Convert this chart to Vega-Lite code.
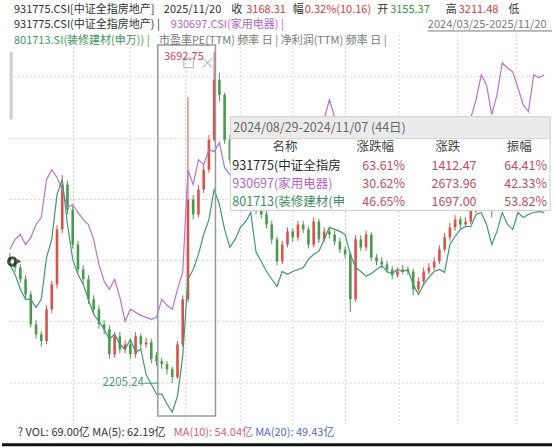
{
"$schema":"https://vega.github.io/schema/vega-lite/v6.json",
"width":554,"height":447,"autosize":{"type":"fit","contains":"padding"},"padding":0,
"background":"#ffffff",
"config":{"view":{"stroke":null},"text":{"font":"Noto Sans CJK SC","fontSize":11,"baseline":"middle","align":"left"}},
"datasets":{
"k":[
{"d":0,"o":2770,"c":2752,"h":2790,"l":2735},{"d":4,"o":2752,"c":2725,"h":2770,"l":2705},{"d":8,"o":2725,"c":2672,"h":2740,"l":2655},{"d":12,"o":2672,"c":2604,"h":2690,"l":2585},{"d":16,"o":2604,"c":2470,"h":2620,"l":2455},{"d":20,"o":2470,"c":2425,"h":2490,"l":2405},{"d":24,"o":2425,"c":2394,"h":2440,"l":2370},{"d":28,"o":2394,"c":2537,"h":2555,"l":2380},{"d":32,"o":2537,"c":2649,"h":2665,"l":2520},{"d":36,"o":2649,"c":2896,"h":2915,"l":2630},{"d":40,"o":2896,"c":3097,"h":3140,"l":2880},{"d":44,"o":3097,"c":2985,"h":3115,"l":2965},{"d":48,"o":2985,"c":2828,"h":3000,"l":2810},{"d":52,"o":2828,"c":2716,"h":2845,"l":2700},{"d":56,"o":2716,"c":2672,"h":2735,"l":2650},{"d":60,"o":2672,"c":2582,"h":2690,"l":2560},{"d":64,"o":2582,"c":2537,"h":2600,"l":2515},{"d":68,"o":2537,"c":2470,"h":2555,"l":2450},{"d":72,"o":2470,"c":2448,"h":2490,"l":2425},{"d":76,"o":2448,"c":2336,"h":2465,"l":2315},{"d":80,"o":2336,"c":2416,"h":2435,"l":2320},{"d":84,"o":2416,"c":2358,"h":2435,"l":2340},{"d":88,"o":2358,"c":2380,"h":2400,"l":2340},{"d":92,"o":2380,"c":2336,"h":2400,"l":2315},{"d":96,"o":2336,"c":2416,"h":2435,"l":2320},{"d":100,"o":2416,"c":2380,"h":2430,"l":2360},{"d":104,"o":2380,"c":2389,"h":2410,"l":2365},{"d":108,"o":2389,"c":2313,"h":2405,"l":2295},{"d":112,"o":2330,"c":2305,"h":2345,"l":2285},{"d":116,"o":2305,"c":2291,"h":2320,"l":2270},{"d":120,"o":2291,"c":2268,"h":2305,"l":2245},{"d":124,"o":2268,"c":2233,"h":2280,"l":2205.24},{"d":128,"o":2233,"c":2380,"h":2395,"l":2225},{"d":132,"o":2380,"c":2582,"h":2600,"l":2370},{"d":136,"o":2582,"c":3030,"h":3491,"l":2570},{"d":140,"o":3030,"c":2963,"h":3050,"l":2940},{"d":144,"o":2963,"c":3075,"h":3095,"l":2950},{"d":148,"o":3075,"c":3164,"h":3185,"l":3060},{"d":152,"o":3164,"c":3299,"h":3320,"l":3150},{"d":156,"o":3299,"c":3568,"h":3692.75,"l":3290},{"d":160,"o":3568,"c":3500,"h":3600,"l":3470},{"d":164,"o":3500,"c":3299,"h":3510,"l":3280},
{"d":168,"o":3299,"c":3209,"h":3320,"l":3190},{"d":172,"o":3209,"c":3120,"h":3230,"l":3100},{"d":176,"o":3120,"c":3075,"h":3140,"l":3055},{"d":180,"o":3075,"c":3097,"h":3115,"l":3060},{"d":184,"o":3097,"c":3030,"h":3110,"l":3010},{"d":188,"o":3030,"c":2985,"h":3045,"l":2965},{"d":192,"o":2985,"c":2963,"h":3000,"l":2945},{"d":196,"o":2963,"c":2918,"h":2980,"l":2900},{"d":200,"o":2918,"c":2851,"h":2935,"l":2830},{"d":204,"o":2851,"c":2752,"h":2865,"l":2735},{"d":208,"o":2752,"c":2828,"h":2845,"l":2740},{"d":212,"o":2828,"c":2887,"h":2905,"l":2815},{"d":216,"o":2887,"c":2860,"h":2900,"l":2840},{"d":220,"o":2860,"c":2918,"h":2935,"l":2845},{"d":224,"o":2918,"c":2896,"h":2935,"l":2880},{"d":228,"o":2896,"c":2828,"h":2910,"l":2810},{"d":232,"o":2828,"c":2931,"h":2950,"l":2815},{"d":236,"o":2931,"c":2851,"h":2945,"l":2835},{"d":240,"o":2851,"c":2887,"h":2905,"l":2840},{"d":244,"o":2887,"c":2873,"h":2900,"l":2855},{"d":248,"o":2873,"c":2842,"h":2890,"l":2825},{"d":252,"o":2842,"c":2806,"h":2860,"l":2790},{"d":256,"o":2806,"c":2784,"h":2820,"l":2765},{"d":260,"o":2784,"c":2582,"h":2795,"l":2524},{"d":264,"o":2582,"c":2851,"h":2870,"l":2570},{"d":268,"o":2851,"c":2815,"h":2870,"l":2800},{"d":272,"o":2815,"c":2873,"h":2890,"l":2800},{"d":276,"o":2873,"c":2770,"h":2885,"l":2755},{"d":280,"o":2770,"c":2752,"h":2785,"l":2735},{"d":284,"o":2752,"c":2739,"h":2770,"l":2720},{"d":288,"o":2739,"c":2716,"h":2755,"l":2700},{"d":292,"o":2716,"c":2690,"h":2730,"l":2672},{"d":296,"o":2690,"c":2707,"h":2725,"l":2680},{"d":300,"o":2707,"c":2716,"h":2735,"l":2695},{"d":304,"o":2716,"c":2707,"h":2730,"l":2690},{"d":308,"o":2707,"c":2627,"h":2720,"l":2600},{"d":312,"o":2627,"c":2663,"h":2680,"l":2615},{"d":316,"o":2663,"c":2707,"h":2725,"l":2650},{"d":320,"o":2707,"c":2725,"h":2745,"l":2695},{"d":324,"o":2725,"c":2752,"h":2770,"l":2712},{"d":328,"o":2752,"c":2806,"h":2825,"l":2740},{"d":332,"o":2806,"c":2860,"h":2880,"l":2795},{"d":336,"o":2860,"c":2905,"h":2925,"l":2845},{"d":340,"o":2905,"c":2940,"h":2960,"l":2890},{"d":344,"o":2940,"c":2918,"h":2955,"l":2900},{"d":348,"o":2918,"c":2931,"h":2950,"l":2905},{"d":352,"o":2931,"c":2985,"h":3005,"l":2920},{"d":356,"o":2985,"c":3008,"h":3025,"l":2970},{"d":360,"o":3008,"c":3030,"h":3050,"l":2995},{"d":364,"o":3030,"c":3039,"h":3060,"l":3015},{"d":368,"o":3039,"c":3008,"h":3050,"l":2950},{"d":372,"o":3008,"c":3030,"h":3048,"l":2995},{"d":376,"o":3030,"c":3052,"h":3070,"l":3015},{"d":380,"o":3052,"c":3039,"h":3065,"l":3020},{"d":384,"o":3039,"c":3052,"h":3070,"l":3025},{"d":388,"o":3052,"c":3030,"h":3065,"l":3012},{"d":392,"o":3030,"c":3043,"h":3060,"l":3018},{"d":396,"o":3043,"c":3075,"h":3090,"l":3030},{"d":400,"o":3075,"c":3100,"h":3120,"l":3060},{"d":404,"o":3100,"c":3130,"h":3150,"l":3085},{"d":408,"o":3155,"c":3168.31,"h":3211.48,"l":3140}
],
"cmp":[
{"d":0,"p":2806,"g":2739},{"d":4,"p":2851,"g":2694},{"d":8,"p":2873,"g":2627},{"d":12,"p":2828,"g":2582},{"d":16,"p":2860,"g":2582},{"d":20,"p":2918,"g":2546},{"d":24,"p":2949,"g":2582},{"d":28,"p":3120,"g":2770},{"d":32,"p":3164,"g":2851},{"d":36,"p":3129,"g":3052},{"d":40,"p":3075,"g":3120},{"d":44,"p":2994,"g":2918},{"d":48,"p":3008,"g":2761},{"d":52,"p":2972,"g":2694},{"d":56,"p":2940,"g":2649},{"d":60,"p":2918,"g":2582},{"d":64,"p":2851,"g":2515},{"d":68,"p":2739,"g":2483},{"d":72,"p":2663,"g":2448},{"d":76,"p":2627,"g":2403},{"d":80,"p":2672,"g":2425},{"d":84,"p":2591,"g":2380},{"d":88,"p":2483,"g":2358},{"d":92,"p":2537,"g":2403},{"d":96,"p":2524,"g":2345},{"d":100,"p":2510,"g":2358},{"d":104,"p":2501,"g":2246},{"d":108,"p":2492,"g":2201},{"d":112,"p":2501,"g":2156},{"d":116,"p":2582,"g":2156},{"d":120,"p":2555,"g":2112},{"d":124,"p":2537,"g":2076},{"d":128,"p":2627,"g":2147},{"d":132,"p":2703,"g":2327},{"d":136,"p":3164,"g":2672},{"d":140,"p":3097,"g":2716},{"d":144,"p":3209,"g":2784},{"d":148,"p":3187,"g":2873},{"d":152,"p":3254,"g":2940},{"d":156,"p":3245,"g":3075},{"d":160,"p":3285,"g":3008},{"d":164,"p":3173,"g":2896},{"d":168,"p":3142,"g":2815},{"d":172,"p":3164,"g":2851},{"d":176,"p":3209,"g":2905},{"d":180,"p":3254,"g":2931},{"d":184,"p":3276,"g":2972},{"d":188,"p":3254,"g":2793},{"d":192,"p":3209,"g":2752},{"d":196,"p":3232,"g":2707},{"d":200,"p":3254,"g":2672},{"d":204,"p":3276,"g":2640},{"d":208,"p":3299,"g":2707},{"d":212,"p":3321,"g":2694},{"d":216,"p":3308,"g":2707},{"d":220,"p":3335,"g":2716},{"d":224,"p":3344,"g":2725},{"d":228,"p":3353,"g":2761},{"d":232,"p":3366,"g":2784},{"d":236,"p":3379,"g":2797},{"d":240,"p":3390,"g":2851},{"d":244,"p":3478,"g":2905},{"d":248,"p":3400,"g":2896},{"d":252,"p":3388,"g":2887},{"d":256,"p":3366,"g":2873},{"d":260,"p":3321,"g":2784},{"d":264,"p":3299,"g":2725},{"d":268,"p":3290,"g":2707},{"d":272,"p":3276,"g":2685},{"d":276,"p":3263,"g":2698},{"d":280,"p":3254,"g":2716},{"d":284,"p":3245,"g":2734},{"d":288,"p":3254,"g":2707},{"d":292,"p":3232,"g":2698},{"d":296,"p":3254,"g":2716},{"d":300,"p":3245,"g":2707},{"d":304,"p":3232,"g":2716},{"d":308,"p":3218,"g":2649},{"d":312,"p":3254,"g":2604},{"d":316,"p":3263,"g":2649},{"d":320,"p":3276,"g":2681},{"d":324,"p":3299,"g":2707},{"d":328,"p":3308,"g":2716},{"d":332,"p":3321,"g":2703},{"d":336,"p":3335,"g":2828},{"d":340,"p":3344,"g":2864},{"d":344,"p":3353,"g":2896},{"d":348,"p":3366,"g":2909},{"d":352,"p":3397,"g":2909},{"d":356,"p":3478,"g":2963},{"d":360,"p":3590,"g":2972},{"d":364,"p":3545,"g":2918},{"d":368,"p":3411,"g":2828},{"d":372,"p":3500,"g":2887},{"d":376,"p":3644,"g":2972},{"d":380,"p":3621,"g":2918},{"d":384,"p":3603,"g":2896},{"d":388,"p":3532,"g":2972},{"d":392,"p":3456,"g":2949},{"d":396,"p":3424,"g":2963},{"d":400,"p":3590,"g":2972},{"d":404,"p":3577,"g":2976},{"d":408,"p":3590,"g":2972}
]
},
"layer":[
{"data":{"values":[{"v":3581},{"v":3303},{"v":3030},{"v":2757},{"v":2483},{"v":2206}]},
 "mark":{"type":"rule","color":"#d6d6d6","strokeDash":[2,2],"strokeWidth":1},
 "encoding":{"x":{"datum":0,"type":"quantitative","scale":{"domain":[-6,414],"nice":false,"zero":false},"axis":null},"x2":{"datum":409.5},
  "y":{"field":"v","type":"quantitative","scale":{"domain":[1923.4,3926],"nice":false,"zero":false},"axis":null}}},
{"data":{"values":[{"d":48.6},{"d":91.8},{"d":134.3},{"d":176},{"d":216.1},{"d":256.3},{"d":297.3},{"d":342},{"d":386.7}]},
 "mark":{"type":"rule","color":"#d6d6d6","strokeDash":[2,2],"strokeWidth":1},
 "encoding":{"x":{"field":"d","type":"quantitative","scale":{"domain":[-6,414],"nice":false,"zero":false},"axis":null},
  "y":{"datum":3769,"type":"quantitative","scale":{"domain":[1923.4,3926],"nice":false,"zero":false},"axis":null},"y2":{"datum":2022}}},
{"data":{"values":[{}]},"mark":{"type":"rule","color":"#d0d0d0","strokeWidth":3},
 "encoding":{"x":{"datum":1,"type":"quantitative","scale":{"domain":[-6,414],"nice":false,"zero":false},"axis":null},
  "y":{"datum":3693,"type":"quantitative","scale":{"domain":[1923.4,3926],"nice":false,"zero":false},"axis":null},"y2":{"datum":3390}}},
{"data":{"name":"k"},"mark":{"type":"rule","strokeWidth":1},
 "encoding":{"x":{"field":"d","type":"quantitative","scale":{"domain":[-6,414],"nice":false,"zero":false},"axis":null},
  "y":{"field":"l","type":"quantitative","scale":{"domain":[1923.4,3926],"nice":false,"zero":false},"axis":null},"y2":{"field":"h"},
  "color":{"condition":{"test":"datum.c >= datum.o","value":"#d8524a"},"value":"#4a9a4e"}}},
{"data":{"name":"k"},"mark":{"type":"rule","strokeWidth":2.6},
 "encoding":{"x":{"field":"d","type":"quantitative","scale":{"domain":[-6,414],"nice":false,"zero":false},"axis":null},
  "y":{"field":"o","type":"quantitative","scale":{"domain":[1923.4,3926],"nice":false,"zero":false},"axis":null},"y2":{"field":"c"},
  "color":{"condition":{"test":"datum.c >= datum.o","value":"#d8524a"},"value":"#4a9a4e"}}},
{"data":{"name":"cmp"},"mark":{"type":"line","color":"#b873cf","strokeWidth":1.2},
 "encoding":{"x":{"field":"d","type":"quantitative","scale":{"domain":[-6,414],"nice":false,"zero":false},"axis":null},
  "y":{"field":"p","type":"quantitative","scale":{"domain":[1923.4,3926],"nice":false,"zero":false},"axis":null}}},
{"data":{"name":"cmp"},"mark":{"type":"line","color":"#3f9a72","strokeWidth":1.2},
 "encoding":{"x":{"field":"d","type":"quantitative","scale":{"domain":[-6,414],"nice":false,"zero":false},"axis":null},
  "y":{"field":"g","type":"quantitative","scale":{"domain":[1923.4,3926],"nice":false,"zero":false},"axis":null}}},
{"data":{"values":[{}]},"mark":{"type":"rect","fill":"#ffffff","fillOpacity":0,"stroke":"#9a9a9a","strokeWidth":1.5},
 "encoding":{"x":{"datum":113,"type":"quantitative","scale":{"domain":[-6,414],"nice":false,"zero":false},"axis":null},"x2":{"datum":157},
  "y":{"datum":2058,"type":"quantitative","scale":{"domain":[1923.4,3926],"nice":false,"zero":false},"axis":null},"y2":{"datum":3724}}},
{"data":{"values":[{"d":136.5,"v":3644}]},"mark":{"type":"point","shape":"square","size":90,"filled":false,"color":"#a8a8a8","strokeWidth":1.2},
 "encoding":{"x":{"field":"d","type":"quantitative","scale":{"domain":[-6,414],"nice":false,"zero":false},"axis":null},
  "y":{"field":"v","type":"quantitative","scale":{"domain":[1923.4,3926],"nice":false,"zero":false},"axis":null}}},
{"data":{"values":[{"d":150.9,"v":3644}]},"mark":{"type":"point","shape":"M-1,-1L1,1M1,-1L-1,1","size":80,"filled":false,"color":"#a8a8a8","strokeWidth":1.2},
 "encoding":{"x":{"field":"d","type":"quantitative","scale":{"domain":[-6,414],"nice":false,"zero":false},"axis":null},
  "y":{"field":"v","type":"quantitative","scale":{"domain":[1923.4,3926],"nice":false,"zero":false},"axis":null}}},
{"data":{"values":[{}]},"mark":{"type":"rule","color":"#4a9a7a","strokeWidth":1},
 "encoding":{"x":{"datum":102.6,"type":"quantitative","scale":{"domain":[-6,414],"nice":false,"zero":false},"axis":null},"x2":{"datum":113},
  "y":{"datum":2205.24,"type":"quantitative","scale":{"domain":[1923.4,3926],"nice":false,"zero":false},"axis":null}}},
{"data":{"values":[{"d":102.4,"v":2205.24,"t":"2205.24"}]},"mark":{"type":"text","align":"right","color":"#4a9a7a","fontSize":11.5},
 "encoding":{"x":{"field":"d","type":"quantitative","scale":{"domain":[-6,414],"nice":false,"zero":false},"axis":null},
  "y":{"field":"v","type":"quantitative","scale":{"domain":[1923.4,3926],"nice":false,"zero":false},"axis":null},"text":{"field":"t"}}},
{"data":{"values":[{"d":148,"v":3668,"t":"3692.75"}]},"mark":{"type":"text","align":"right","color":"#d04a5a","fontSize":11},
 "encoding":{"x":{"field":"d","type":"quantitative","scale":{"domain":[-6,414],"nice":false,"zero":false},"axis":null},
  "y":{"field":"v","type":"quantitative","scale":{"domain":[1923.4,3926],"nice":false,"zero":false},"axis":null},"text":{"field":"t"}}},
{"data":{"values":[{"d":1.8,"v":2752}]},"mark":{"type":"point","shape":"circle","size":55,"filled":false,"color":"#111111","strokeWidth":3},
 "encoding":{"x":{"field":"d","type":"quantitative","scale":{"domain":[-6,414],"nice":false,"zero":false},"axis":null},
  "y":{"field":"v","type":"quantitative","scale":{"domain":[1923.4,3926],"nice":false,"zero":false},"axis":null}}},
{"data":{"values":[{"d":7.2,"v":2752}]},"mark":{"type":"point","shape":"triangle-right","size":22,"filled":true,"color":"#111111"},
 "encoding":{"x":{"field":"d","type":"quantitative","scale":{"domain":[-6,414],"nice":false,"zero":false},"axis":null},
  "y":{"field":"v","type":"quantitative","scale":{"domain":[1923.4,3926],"nice":false,"zero":false},"axis":null}}},
{"data":{"values":[{}]},"mark":{"type":"rect","fill":"#ffffff","stroke":"#cfcfcf","strokeWidth":1},
 "encoding":{"x":{"datum":168.4,"type":"quantitative","scale":{"domain":[-6,414],"nice":false,"zero":false},"axis":null},"x2":{"datum":412.5},
  "y":{"datum":2980.7,"type":"quantitative","scale":{"domain":[1923.4,3926],"nice":false,"zero":false},"axis":null},"y2":{"datum":3401.8}}},
{"data":{"values":[{}]},"mark":{"type":"rect","fill":"#ebebeb","stroke":"#d4d4d4","strokeWidth":1},
 "encoding":{"x":{"datum":168.4,"type":"quantitative","scale":{"domain":[-6,414],"nice":false,"zero":false},"axis":null},"x2":{"datum":412.5},
  "y":{"datum":3303.3,"type":"quantitative","scale":{"domain":[1923.4,3926],"nice":false,"zero":false},"axis":null},"y2":{"datum":3401.8}}},
{"data":{"values":[{"d":170.6,"v":3352.6,"t":"2024/08/29-2024/11/07 (44日)"}]},"mark":{"type":"text","color":"#6a6a6a","fontSize":12.5},
 "encoding":{"x":{"field":"d","type":"quantitative","scale":{"domain":[-6,414],"nice":false,"zero":false},"axis":null},
  "y":{"field":"v","type":"quantitative","scale":{"domain":[1923.4,3926],"nice":false,"zero":false},"axis":null},"text":{"field":"t"}}},
{"data":{"values":[{"d":210.1,"v":3267.4,"t":"名称"},{"d":279.1,"v":3267.4,"t":"涨跌幅"},{"d":334.4,"v":3267.4,"t":"涨跌"},{"d":389,"v":3267.4,"t":"振幅"}]},"mark":{"type":"text","align":"center","color":"#444444","fontSize":12.5},
 "encoding":{"x":{"field":"d","type":"quantitative","scale":{"domain":[-6,414],"nice":false,"zero":false},"axis":null},
  "y":{"field":"v","type":"quantitative","scale":{"domain":[1923.4,3926],"nice":false,"zero":false},"axis":null},"text":{"field":"t"}}},
{"data":{"values":[{"d":169.9,"v":3182.3,"t":"931775(中证全指房地产)"}]},"mark":{"type":"text","color":"#2a2a2a","fontSize":12.5,"limit":118,"ellipsis":"\u200b"},
 "encoding":{"x":{"field":"d","type":"quantitative","scale":{"domain":[-6,414],"nice":false,"zero":false},"axis":null},
  "y":{"field":"v","type":"quantitative","scale":{"domain":[1923.4,3926],"nice":false,"zero":false},"axis":null},"text":{"field":"t"}}},
{"data":{"values":[{"d":169.9,"v":3101.7,"t":"930697(家用电器)"}]},"mark":{"type":"text","color":"#b465c8","fontSize":12.5},
 "encoding":{"x":{"field":"d","type":"quantitative","scale":{"domain":[-6,414],"nice":false,"zero":false},"axis":null},
  "y":{"field":"v","type":"quantitative","scale":{"domain":[1923.4,3926],"nice":false,"zero":false},"axis":null},"text":{"field":"t"}}},
{"data":{"values":[{"d":169.9,"v":3021,"t":"801713(装修建材(申万))"}]},"mark":{"type":"text","color":"#3f8f62","fontSize":12.5,"limit":118,"ellipsis":"\u200b"},
 "encoding":{"x":{"field":"d","type":"quantitative","scale":{"domain":[-6,414],"nice":false,"zero":false},"axis":null},
  "y":{"field":"v","type":"quantitative","scale":{"domain":[1923.4,3926],"nice":false,"zero":false},"axis":null},"text":{"field":"t"}}},
{"data":{"values":[{"d":301.8,"v":3182.3,"t":"63.61%"},{"d":356.4,"v":3182.3,"t":"1412.47"},{"d":410.2,"v":3182.3,"t":"64.41%"},{"d":301.8,"v":3101.7,"t":"30.62%"},{"d":356.4,"v":3101.7,"t":"2673.96"},{"d":410.2,"v":3101.7,"t":"42.33%"},{"d":301.8,"v":3021,"t":"46.65%"},{"d":356.4,"v":3021,"t":"1697.00"},{"d":410.2,"v":3021,"t":"53.82%"}]},"mark":{"type":"text","align":"right","color":"#c24e5e","fontSize":12.5},
 "encoding":{"x":{"field":"d","type":"quantitative","scale":{"domain":[-6,414],"nice":false,"zero":false},"axis":null},
  "y":{"field":"v","type":"quantitative","scale":{"domain":[1923.4,3926],"nice":false,"zero":false},"axis":null},"text":{"field":"t"}}},
{"data":{"values":[{"d":3.1,"v":3881,"t":"931775.CSI[中证全指房地产]"},{"d":117.6,"v":3881,"t":"2025/11/20"},{"d":169.1,"v":3881,"t":"收"},{"d":216.1,"v":3881,"t":"幅"},{"d":280.6,"v":3881,"t":"开"},{"d":332.9,"v":3881,"t":"高"},{"d":380.7,"v":3881,"t":"低"},{"d":3.1,"v":3814,"t":"931775.CSI(中证全指房地产) |"}]},"mark":{"type":"text","color":"#333333"},
 "encoding":{"x":{"field":"d","type":"quantitative","scale":{"domain":[-6,414],"nice":false,"zero":false},"axis":null},
  "y":{"field":"v","type":"quantitative","scale":{"domain":[1923.4,3926],"nice":false,"zero":false},"axis":null},"text":{"field":"t"}}},
{"data":{"values":[{"d":180.5,"v":3881,"t":"3168.31"},{"d":225.2,"v":3881,"t":"0.32%(10.16)"},{"d":342.8,"v":3881,"t":"3211.48"}]},"mark":{"type":"text","color":"#e0383c"},
 "encoding":{"x":{"field":"d","type":"quantitative","scale":{"domain":[-6,414],"nice":false,"zero":false},"axis":null},
  "y":{"field":"v","type":"quantitative","scale":{"domain":[1923.4,3926],"nice":false,"zero":false},"axis":null},"text":{"field":"t"}}},
{"data":{"values":[{"d":290.4,"v":3881,"t":"3155.37"}]},"mark":{"type":"text","color":"#2e9a40"},
 "encoding":{"x":{"field":"d","type":"quantitative","scale":{"domain":[-6,414],"nice":false,"zero":false},"axis":null},
  "y":{"field":"v","type":"quantitative","scale":{"domain":[1923.4,3926],"nice":false,"zero":false},"axis":null},"text":{"field":"t"}}},
{"data":{"values":[{"d":122.9,"v":3814,"t":"930697.CSI(家用电器) |"}]},"mark":{"type":"text","color":"#b465c8"},
 "encoding":{"x":{"field":"d","type":"quantitative","scale":{"domain":[-6,414],"nice":false,"zero":false},"axis":null},
  "y":{"field":"v","type":"quantitative","scale":{"domain":[1923.4,3926],"nice":false,"zero":false},"axis":null},"text":{"field":"t"}}},
{"data":{"values":[{"d":319.2,"v":3814,"t":"2024/03/25-2025/11/20"},{"d":113.8,"v":3740,"t":"市盈率PE(TTM) 频率 日 | 净利润(TTM) 频率 日 |"}]},"mark":{"type":"text","color":"#7a7a7a"},
 "encoding":{"x":{"field":"d","type":"quantitative","scale":{"domain":[-6,414],"nice":false,"zero":false},"axis":null},
  "y":{"field":"v","type":"quantitative","scale":{"domain":[1923.4,3926],"nice":false,"zero":false},"axis":null},"text":{"field":"t"}}},
{"data":{"values":[{}]},"mark":{"type":"rule","color":"#7a7a7a","strokeWidth":1},
 "encoding":{"x":{"datum":319.2,"type":"quantitative","scale":{"domain":[-6,414],"nice":false,"zero":false},"axis":null},"x2":{"datum":414},
  "y":{"datum":3787,"type":"quantitative","scale":{"domain":[1923.4,3926],"nice":false,"zero":false},"axis":null}}},
{"data":{"values":[{"d":3.1,"v":3740,"t":"801713.SI(装修建材(申万)) |"}]},"mark":{"type":"text","color":"#3f9a60"},
 "encoding":{"x":{"field":"d","type":"quantitative","scale":{"domain":[-6,414],"nice":false,"zero":false},"axis":null},
  "y":{"field":"v","type":"quantitative","scale":{"domain":[1923.4,3926],"nice":false,"zero":false},"axis":null},"text":{"field":"t"}}},
{"data":{"values":[{"d":6.1,"v":1982,"t":"? VOL: 69.00亿 MA(5): 62.19亿"}]},"mark":{"type":"text","color":"#333333"},
 "encoding":{"x":{"field":"d","type":"quantitative","scale":{"domain":[-6,414],"nice":false,"zero":false},"axis":null},
  "y":{"field":"v","type":"quantitative","scale":{"domain":[1923.4,3926],"nice":false,"zero":false},"axis":null},"text":{"field":"t"}}},
{"data":{"values":[{"d":125.2,"v":1982,"t":"MA(10): 54.04亿"}]},"mark":{"type":"text","color":"#e05a78"},
 "encoding":{"x":{"field":"d","type":"quantitative","scale":{"domain":[-6,414],"nice":false,"zero":false},"axis":null},
  "y":{"field":"v","type":"quantitative","scale":{"domain":[1923.4,3926],"nice":false,"zero":false},"axis":null},"text":{"field":"t"}}},
{"data":{"values":[{"d":187.3,"v":1982,"t":"MA(20): 49.43亿"}]},"mark":{"type":"text","color":"#5566cc"},
 "encoding":{"x":{"field":"d","type":"quantitative","scale":{"domain":[-6,414],"nice":false,"zero":false},"axis":null},
  "y":{"field":"v","type":"quantitative","scale":{"domain":[1923.4,3926],"nice":false,"zero":false},"axis":null},"text":{"field":"t"}}},
{"data":{"values":[{}]},"mark":{"type":"rule","color":"#111111","strokeWidth":3},
 "encoding":{"x":{"datum":-6,"type":"quantitative","scale":{"domain":[-6,414],"nice":false,"zero":false},"axis":null},"x2":{"datum":414},
  "y":{"datum":1929,"type":"quantitative","scale":{"domain":[1923.4,3926],"nice":false,"zero":false},"axis":null}}}
]
}
